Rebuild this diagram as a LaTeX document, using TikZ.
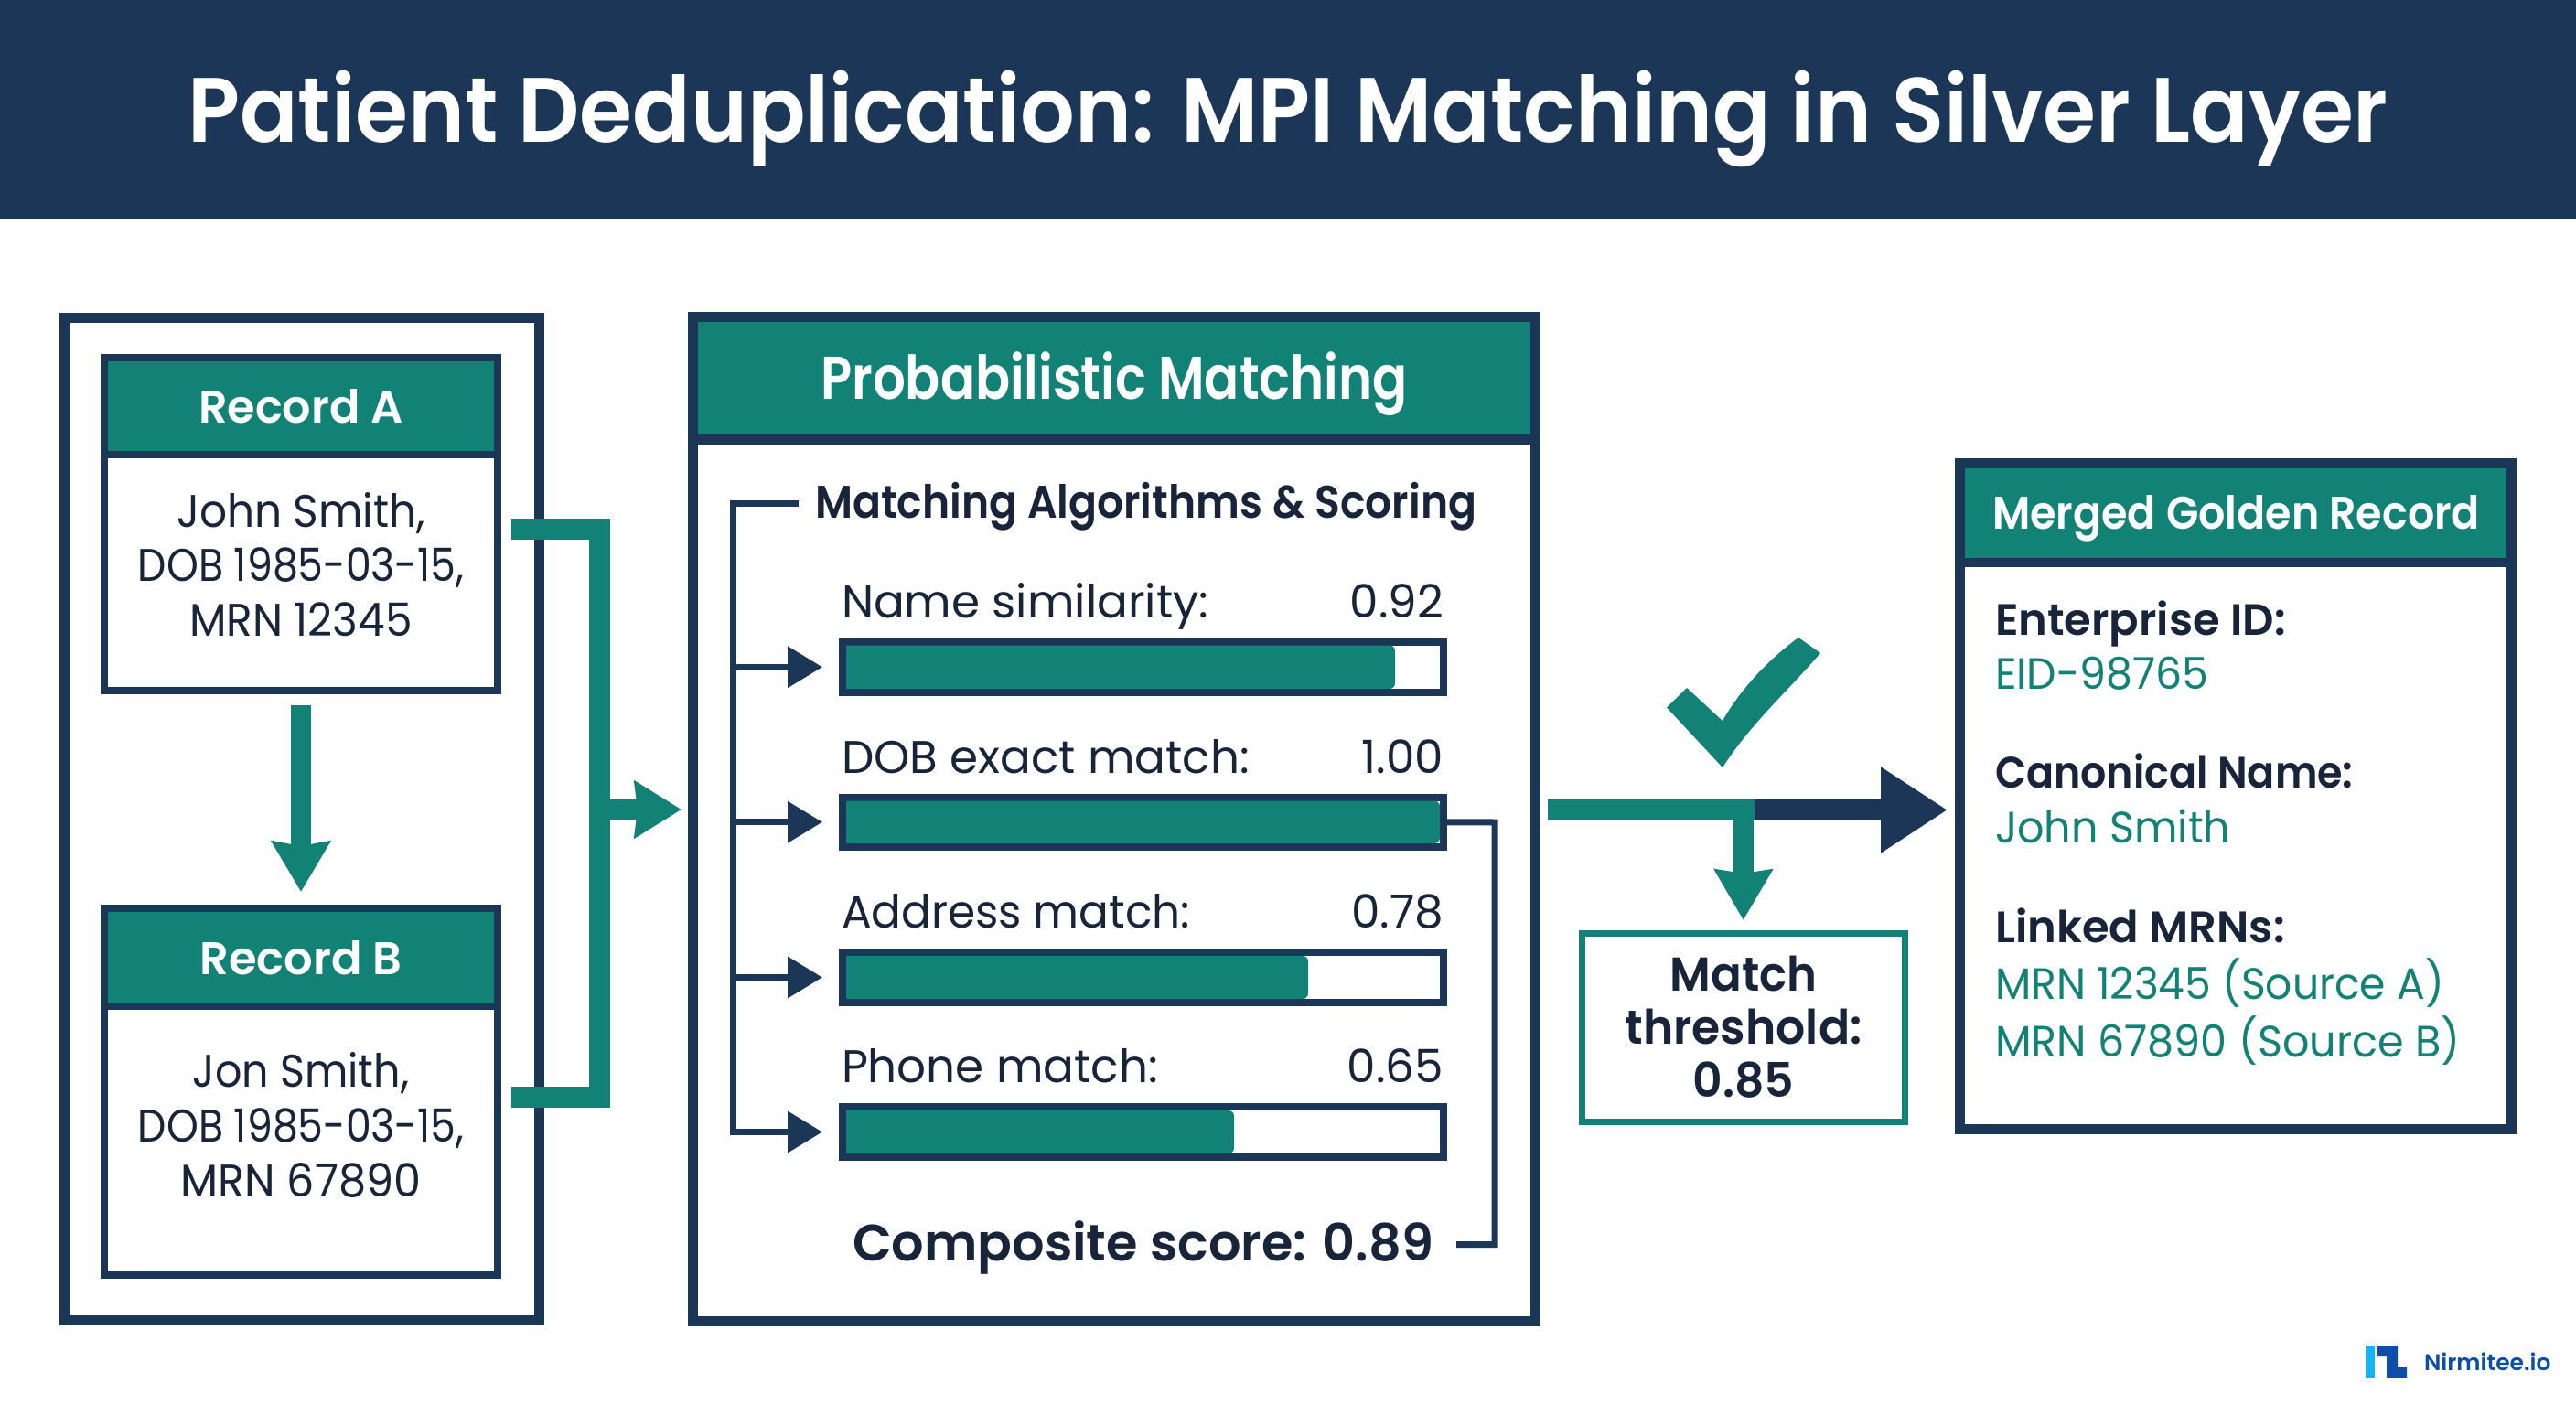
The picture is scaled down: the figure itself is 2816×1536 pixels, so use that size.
\documentclass[tikz,border=0pt]{standalone}
\usepackage{fontspec}
\usetikzlibrary{arrows.meta}
\setmainfont{Poppins}[BoldFont={Poppins SemiBold}]
\definecolor{navy}{HTML}{1C3657}
\definecolor{tealx}{HTML}{128276}
\definecolor{inkx}{HTML}{17243A}
\definecolor{logod}{HTML}{0D4FA6}
\definecolor{logol}{HTML}{17B2F2}
\newcommand\fs[1]{\fontsize{#1}{#1}\selectfont}
\newcommand\sx[2]{{\addfontfeature{FakeStretch=#1}#2}}
\newcommand\rbox[6]{\node[#2,minimum width={#5-#3},minimum height={#6-#4}] (#1) at ({(#3+#5)/2},{(#4+#6)/2}) {};}
\newcommand\scorebar[7]{% name y1(frame) y2 fillx label value size
  \rbox{#1}{framex,line width=8pt}{921}{#2}{1578}{#3}
  \fill[tealx] (925,#2+4) [rounded corners=6pt] -- (#4,#2+4) -- (#4,#3-4) [sharp corners] -- (925,#3-4) -- cycle;
  \node[lbl,anchor=base west,font=\fs{#7}] (#1l) at (920,#2-26.5) {#5};
  \node[lbl,anchor=base east,font=\fs{#7}] (#1v) at (1578,#2-26.5) {#6};
  \draw[thinarrow] (#1.west -| busx) -- ([xshift=-22pt]#1.west);
}
\tikzset{
  x=1pt,y=-1pt,
  framex/.style={draw=navy,fill=white,inner sep=0,outer sep=0,rectangle},
  headx/.style={fill=tealx,draw=none,inner sep=0,outer sep=0,rectangle},
  lbl/.style={inner sep=0,outer sep=0,text=inkx},
  hdr/.style={inner sep=0,outer sep=0,text=white,anchor=base},
  fat/.style={draw=tealx,line width=23pt,line join=miter},
  thinarrow/.style={draw=navy,line width=7pt,-{Stealth[length=38pt,width=44pt,inset=0pt]}},
  thinline/.style={draw=navy,line width=7pt,line join=miter},
}
\begin{document}
\begin{tikzpicture}
\useasboundingbox (0,0) rectangle (2816,1536);
\fill[white] (0,0) rectangle (2816,1536);
% title band
\fill[navy] (0,0) rectangle (2816,239);
\node[hdr,font=\fs{100}\bfseries] (title) at (1408,155) {\sx{0.9376}{Patient Deduplication: MPI Matching in Silver Layer}};
% left panel
\rbox{leftp}{framex,line width=11pt}{70.5}{347}{589}{1443}
\rbox{recA}{framex,line width=8pt}{114}{391}{544}{755}
\rbox{recAh}{headx}{118}{395}{540}{493.5}
\draw[navy,line width=8pt] (recAh.south west) ++(0,3.5) -- ++(422,0);
\node[hdr,font=\fs{50}\bfseries] (recAt) at (329,462) {\sx{0.985}{Record A}};
\node[lbl,font=\fs{50},align=center] (recAb) at (329,617) {\sx{0.94}{John Smith,}\\[9.7pt]\sx{0.885}{DOB 1985-03-15,}\\[9.7pt]\sx{0.94}{MRN 12345}};
\rbox{recB}{framex,line width=8pt}{114}{993}{544}{1394}
\rbox{recBh}{headx}{118}{997}{540}{1096.5}
\draw[navy,line width=8pt] (recBh.south west) ++(0,3.5) -- ++(422,0);
\node[hdr,font=\fs{50}\bfseries] (recBt) at (329,1065) {\sx{0.99}{Record B}};
\node[lbl,font=\fs{50},align=center] (recBb) at (329,1230) {\sx{0.92}{Jon Smith,}\\[9.7pt]\sx{0.885}{DOB 1985-03-15,}\\[9.7pt]\sx{0.954}{MRN 67890}};
\draw[tealx,line width=22pt,-{Stealth[length=55pt,width=63pt,inset=5pt]}] ([yshift=-16pt]recA.south) -- ([yshift=18pt]recB.north);
% middle panel
\rbox{match}{framex,line width=11pt}{757.5}{346.5}{1678}{1444}
\rbox{matchh}{headx}{763}{352}{1673}{475}
\draw[navy,line width=11pt] (matchh.south west) ++(0,5) -- ++(910,0);
\node[hdr,font=\fs{66}\bfseries] (matcht) at (1218,436) {\sx{0.852}{Probabilistic Matching}};
\node[lbl,anchor=base west,font=\fs{50}\bfseries] (algo) at (891,566) {\sx{0.913}{Matching Algorithms \& Scoring}};
\coordinate (busx) at (801,550);
\draw[thinline] (algo.west |- busx) ++(-18,0) -- (busx) -- (801,1241);
\scorebar{bar1}{701.5}{757}{1525}{Name similarity:}{0.92}{50}
\scorebar{bar2}{871.5}{926}{1574}{DOB exact match:}{1.00}{50}
\scorebar{bar3}{1041}{1096}{1430}{\sx{0.97}{Address match:}}{0.78}{50}
\scorebar{bar4}{1210}{1265}{1349}{Phone match:}{0.65}{50}
\node[lbl,anchor=base west,font=\fs{56}\bfseries] (comp) at (932,1378) {\sx{0.995}{Composite score: 0.89}};
\coordinate (rr) at (1634,899);
\draw[thinline] (bar2.east) ++(4,0) -- (rr) -- (1634,1360.5) -- (1592,1360.5);
% teal bracket
\coordinate (aout) at (559,578);
\coordinate (bout) at (559,1199);
\coordinate (mid) at (654.5,885);
\coordinate (mtip) at (745,885);
\draw[fat] (aout) -- (655,578) -- (655,1199) -- (bout);
\draw[tealx,line width=22pt,-{Stealth[length=51pt,width=61pt,inset=3pt]}] (mid) -- (mtip);
% outflow
\coordinate (ostart) at (1692,885.5);
\coordinate (osplit) at (1918,885.5);
\coordinate (gtip) at (2129,885.5);
\draw[navy,line width=23pt,-{Stealth[length=73pt,width=89pt,inset=0pt]}] (osplit) -- (gtip);
\draw[tealx,line width=23pt] (ostart) -- (osplit);
\rbox{thr}{draw=tealx,fill=white,inner sep=0,outer sep=0,rectangle,line width=7pt}{1729.5}{1020.5}{2082}{1226.5}
\draw[tealx,line width=22pt,-{Stealth[length=55pt,width=62pt,inset=4pt]}] (1906,885.5) -- (thr.north |- 0,1006);
\node[lbl,font=\fs{52}\bfseries,align=center] (thrt) at (1906,1123) {\sx{0.957}{Match}\\[6pt]\sx{0.97}{threshold:}\\[6pt]\sx{0.97}{0.85}};
\fill[tealx] (1822,773.5) -- (1844,752) -- (1883,788) .. controls (1905,750) and (1935,720) .. (1966,697) -- (1990,714) .. controls (1950,760) and (1915,790) .. (1883,839) -- cycle;
% right panel
\rbox{gold}{framex,line width=11pt}{2142.5}{506.5}{2745.5}{1234.5}
\rbox{goldh}{headx}{2148}{512}{2740}{610.5}
\draw[navy,line width=10pt] (goldh.south west) ++(0,4.5) -- ++(592,0);
\node[lbl,anchor=base west,text=white,font=\fs{50}\bfseries] (goldt) at (2178,578) {\sx{0.92}{Merged Golden Record}};
\node[lbl,anchor=base west,font=\fs{48}\bfseries] (g1) at (2181,694) {Enterprise ID:};
\node[lbl,anchor=base west,text=tealx,font=\fs{48}] (g2) at (2181,753.6) {\sx{0.955}{EID-98765}};
\node[lbl,anchor=base west,font=\fs{48}\bfseries] (g3) at (2181,861.6) {\sx{0.925}{Canonical Name:}};
\node[lbl,anchor=base west,text=tealx,font=\fs{48}] (g4) at (2181,921) {\sx{0.96}{John Smith}};
\node[lbl,anchor=base west,font=\fs{48}\bfseries] (g5) at (2181,1030) {Linked MRNs:};
\node[lbl,anchor=base west,text=tealx,font=\fs{48}] (g6) at (2181,1092) {\sx{0.95}{MRN 12345 (Source A)}};
\node[lbl,anchor=base west,text=tealx,font=\fs{48}] (g7) at (2181,1155.6) {\sx{0.96}{MRN 67890 (Source B)}};
% logo
\fill[logol] (2586,1471) rectangle (2596,1506);
\fill[logod] (2599,1471) -- (2621,1471) -- (2621,1494) -- (2631,1494) -- (2631,1506) -- (2609,1506) -- (2609,1482) -- (2599,1482) -- cycle;
\node[inner sep=0,outer sep=0,anchor=base west,text=logod,font=\fs{25}\bfseries] (logo) at (2650,1498) {Nirmitee.io};
\end{tikzpicture}
\end{document}
